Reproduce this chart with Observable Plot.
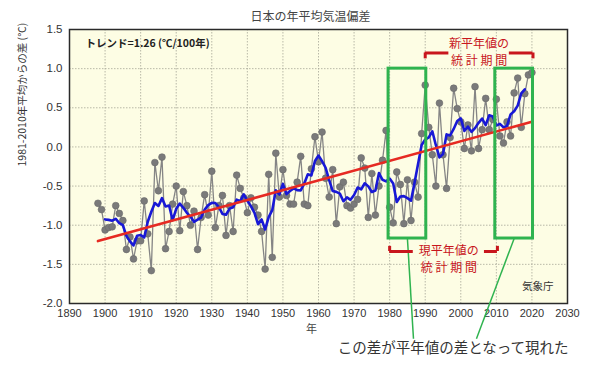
<!DOCTYPE html>
<html><head><meta charset="utf-8">
<script src="https://cdn.jsdelivr.net/npm/d3@7"></script>
<script src="https://cdn.jsdelivr.net/npm/@observablehq/plot@0.6"></script>
<style>
body{margin:0;background:#fff;}
#chart{width:600px;height:374px;}
</style></head><body>
<div id="chart"></div>
<script>
// ---- data ----
const startYear = 1898;
const anomalies = [
  -0.72,-0.80,-1.06,-1.03,-1.02,-0.75,-0.85,-0.94,-1.31,-1.15, // 1898-1907
  -1.43,-1.20,-1.20,-0.69,-1.11,-1.58,-0.20,-0.56,-0.13,-1.30, // 1908-1917
  -1.08,-0.73,-0.50,-1.07,-0.57,-0.75,-1.00,-0.82,-1.31,-0.90, // 1918-1927
  -0.61,-0.87,-0.31,-1.03,-0.75,-0.62,-1.13,-0.75,-1.08,-0.36, // 1928-1937
  -0.53,-0.65,-0.84,-0.65,-0.77,-0.87,-1.08,-1.56,-0.35,-1.41, // 1938-1947
  -0.08,-0.64,-0.29,-0.62,-0.73,-0.73,-0.45,-0.12,-0.73,-0.75, // 1948-1957
  -0.28, 0.13,-0.19, 0.19,-0.40,-0.64,-0.29,-0.98,-0.51,-0.45, // 1958-1967
  -0.75,-0.78,-0.73,-0.67,-0.14,-0.27,-0.90,-0.34,-0.87,-0.50, // 1968-1977
  -0.17, 0.21,-0.77,-0.97,-0.32,-0.48,-0.98,-0.42,-0.94,-0.45, // 1978-1987
  -0.64, 0.17, 0.79, 0.25,-0.10,-0.50, 0.56,-0.10,-0.53, 0.12, // 1988-1997
   0.75, 0.49, 0.32,-0.02, 0.28,-0.05, 0.77,-0.02, 0.22, 0.62, // 1998-2007
   0.22, 0.35, 0.61, 0.14, 0.05, 0.32, 0.14, 0.69, 0.88, 0.25, // 2008-2017
   0.68, 0.92, 0.95                                            // 2018-2020
];
const years = anomalies.map((_, i) => startYear + i);
const xTicks = [1890,1900,1910,1920,1930,1940,1950,1960,1970,1980,1990,2000,2010,2020,2030];
const yTicks = [-2.0,-1.5,-1.0,-0.5,0.0,0.5,1.0,1.5];
const normalPeriods = [
  {line1:"現平年値の", line2:"統 計 期 間", start:1981, end:2010},
  {line1:"新平年値の", line2:"統 計 期 間", start:1991, end:2020}
];
const compareDecades = [{start:1981, end:1990}, {start:2011, end:2020}];
const titleText = "日本の年平均気温偏差";
const trendText = "トレンド=1.26 (℃/100年)";
const yLabel = "1981-2010年平均からの差 (℃)";
const xLabel = "年";
const sourceText = "気象庁";
const noteText = "この差が平年値の差となって現れた";

// ---- build ----
const data = years.map((year, i) => ({year, value: anomalies[i]}));
const RED = "#c8161d", GREEN = "#2fb34f";
const jp = "'Noto Sans CJK JP', sans-serif";

// bracket geometry derived from periods
const brk = [
  {p: normalPeriods[0], lineY: -1.336, tipY: -1.27, gap: 10, shift: 1.5, t1: -1.33, t2: -1.545},
  {p: normalPeriods[1], lineY: 1.20, tipY: 1.125, gap: 8.5, shift: 0, t1: 1.31, t2: 1.095}
].map(b => {
  const x0 = b.p.start - 1, x1 = b.p.end + 0.3, mid = (x0 + x1) / 2 + b.shift;
  return {...b, x0, x1, mid};
});
const segs = brk.flatMap(b => [
  {x1: b.x0, x2: b.mid - b.gap, y: b.lineY},
  {x1: b.mid + b.gap, x2: b.x1, y: b.lineY}
]);
const tips = brk.flatMap(b => [
  {x: b.x0, y1: b.lineY, y2: b.tipY},
  {x: b.x1, y1: b.lineY, y2: b.tipY}
]);
const boxTop = 1.0, boxBottom = -1.17;
const leaders = compareDecades.map((d, i) => ({
  x1: (d.start + d.end) / 2 - 0.5, y1: boxBottom,
  x2: i === 0 ? 1986.7 : 2004.4, y2: -2.45
}));

const plot = Plot.plot({
  width: 600, height: 374,
  marginLeft: 69, marginRight: 33, marginTop: 29, marginBottom: 71,
  x: {domain: [1890, 2030]},
  y: {domain: [-2, 1.5]},
  style: {fontFamily: "'Liberation Sans', Arial, sans-serif", fontSize: "11px", color: "#333", background: "#fff", overflow: "visible"},
  marks: [
    Plot.frame({fill: "#fdfde4", stroke: "none"}),
    Plot.gridX(xTicks, {stroke: "#a8a898", strokeOpacity: 0.8, strokeDasharray: "1.5,1.5"}),
    Plot.gridY(yTicks, {stroke: "#a8a898", strokeOpacity: 0.8, strokeDasharray: "1.5,1.5"}),
    Plot.axisX(xTicks, {tickSize: 0, tickPadding: 6, tickFormat: d => String(d), label: null, fontSize: 11, fill: "#333"}),
    Plot.axisY(yTicks, {tickSize: 0, tickPadding: 7, tickFormat: d => d.toFixed(1), label: null, fontSize: 11.5, fill: "#333"}),
    Plot.line(data, {x: "year", y: "value", stroke: "#858585", strokeWidth: 1.3}),
    Plot.dot(data, {x: "year", y: "value", r: 3.4, fill: "#7a7a7a", stroke: "#6a6a6a", strokeWidth: 0.6}),
    Plot.lineY(data, Plot.windowY({k: 5, anchor: "middle", strict: true}, {x: "year", y: "value", stroke: "#1818d6", strokeWidth: 2.6})),
    Plot.linearRegressionY(data, {x: "year", y: "value", stroke: "#e62a22", strokeWidth: 2.6, ci: 0}),
    Plot.frame({stroke: "#2a2a2a", strokeWidth: 1.5}),
    // highlighted decades
    Plot.rect(compareDecades, {x1: d => d.start - 1.3, x2: d => d.end + 0.3, y1: boxBottom, y2: boxTop, fill: "none", stroke: GREEN, strokeWidth: 3}),
    Plot.link(leaders, {x1: "x1", y1: "y1", x2: "x2", y2: "y2", stroke: GREEN, strokeWidth: 1.5}),
    // period brackets
    Plot.ruleY(segs, {y: "y", x1: "x1", x2: "x2", stroke: RED, strokeWidth: 3}),
    Plot.ruleX(tips, {x: "x", y1: "y1", y2: "y2", stroke: RED, strokeWidth: 3}),
    Plot.text(brk, {x: "mid", y: "t1", text: d => d.p.line1, fill: RED, fontSize: 12, fontFamily: jp}),
    Plot.text(brk, {x: "mid", y: "t2", text: d => d.p.line2, fill: RED, fontSize: 12, fontFamily: jp}),
    // texts
    Plot.text([trendText], {frameAnchor: "top-left", dx: 16, dy: 10, textAnchor: "start", fontSize: 10.5, fontWeight: "bold", fill: "#222", fontFamily: jp}),
    Plot.text([sourceText], {frameAnchor: "bottom-right", dx: -14, dy: -14, textAnchor: "end", fontSize: 10.5, fill: "#333", fontFamily: jp}),
    Plot.text([titleText], {frameAnchor: "top", dx: -8, dy: -17, fontSize: 12, fill: "#444", fontFamily: jp}),
    Plot.text([yLabel], {frameAnchor: "left", dx: -47, rotate: -90, fontSize: 10.5, fill: "#333", fontFamily: jp}),
    Plot.text([xLabel], {frameAnchor: "bottom", dx: -7, dy: 29, fontSize: 11, fill: "#444", fontFamily: jp}),
    Plot.text([noteText], {frameAnchor: "bottom-right", dx: 1, dy: 49, textAnchor: "end", fontSize: 14.5, fill: "#333", fontFamily: jp})
  ]
});
document.getElementById("chart").appendChild(plot);
</script>
</body></html>
